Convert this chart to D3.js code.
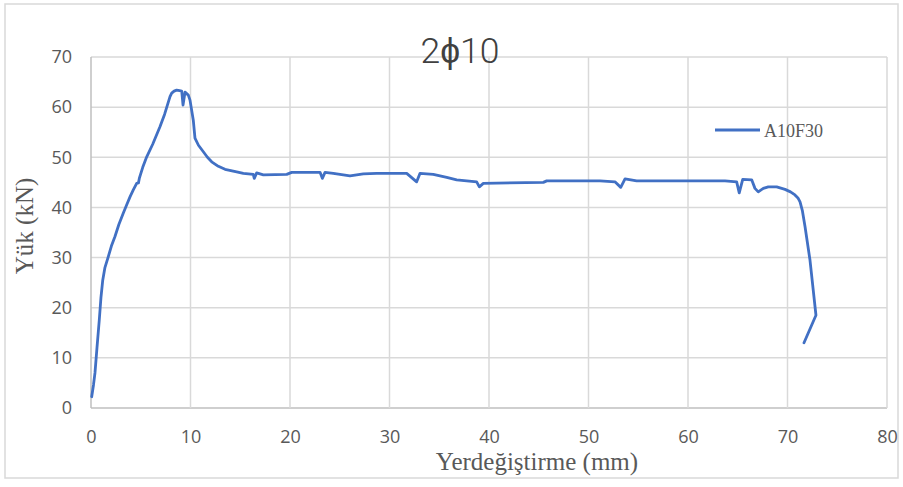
<!DOCTYPE html>
<html>
<head>
<meta charset="utf-8">
<script src="https://cdn.jsdelivr.net/npm/d3@7"></script>
<style>
html,body{margin:0;padding:0;background:#fff;}
svg{display:block;}
</style>
</head>
<body>
<svg id="chart" width="903" height="487"></svg>
<script>
// ---- data ----
const title = "2\u03D510";
const seriesName = "A10F30";
const xLabel = "Yerdeğiştirme (mm)";
const yLabel = "Yük (kN)";
const xTicks = [0, 10, 20, 30, 40, 50, 60, 70, 80];
const yTicks = [0, 10, 20, 30, 40, 50, 60, 70];
const displacement = [
  0.07, 0.25, 0.40, 0.60, 0.83, 1.00, 1.18, 1.40, 1.74, 2.05, 2.41, 2.80, 3.25, 3.60, 3.92, 4.25, 4.59, 4.77, 4.87, 5.20, 5.60,
  6.20, 6.93, 7.40, 7.94, 8.11, 8.35, 8.61, 8.90, 9.12, 9.25, 9.45, 9.78, 9.95,
  10.28, 10.45, 10.80, 11.29, 11.70, 12.13, 12.80, 13.47, 14.64, 15.31, 16.31, 16.41, 16.65, 17.32, 19.67, 20.17, 23.02, 23.25, 23.52,
  24.35, 26.03, 27.37, 28.71, 31.73, 32.73, 33.07, 34.40, 35.75, 36.75, 38.76, 39.03, 39.43, 45.46, 45.80, 51.16, 52.66,
  53.24, 53.67, 54.84, 56.01, 63.72, 64.89, 65.15, 65.50, 66.40, 66.73, 67.06, 67.57, 68.07, 68.91, 69.75, 70.30, 70.75, 71.05, 71.26,
  71.50, 71.76, 72.26, 72.86, 71.66
];
const load = [
  2.25, 4.6, 7.0, 12.0, 17.5, 22.0, 25.5, 28.0, 30.2, 32.3, 34.2, 36.6, 38.9, 40.6, 42.1, 43.5, 44.8, 44.9, 45.9, 48.0, 50.1,
  52.6, 56.1, 58.6, 62.1, 62.8, 63.2, 63.4, 63.3, 63.2, 60.4, 63.0, 62.4, 61.4,
  57.4, 53.8, 52.4, 51.1, 50.0, 49.1, 48.2, 47.6, 47.1, 46.8, 46.6, 45.8, 46.9, 46.5, 46.6, 47.0, 47.0, 45.8, 47.0,
  46.8, 46.3, 46.7, 46.8, 46.8, 45.1, 46.8, 46.6, 46.0, 45.5, 45.1, 44.1, 44.8, 45.0, 45.3, 45.3, 45.1,
  44.0, 45.7, 45.3, 45.3, 45.3, 45.1, 42.9, 45.6, 45.5, 43.8, 43.1, 43.8, 44.1, 44.1, 43.6, 43.1, 42.5, 41.9, 41.1,
  39.3, 36.2, 29.5, 18.5, 13.0
];

// ---- drawing ----
const svg = d3.select("#chart");
const W = 903, H = 487;
const plot = {left: 91, right: 887, top: 57, bottom: 408};
const grid = "#d9d9d9";
const txt = "#595959";
const lineColor = "#4170c4";

svg.append("rect").attr("x", 0).attr("y", 0).attr("width", W).attr("height", H).attr("fill", "#fff");
svg.append("rect").attr("x", 5).attr("y", 4).attr("width", 893).attr("height", 474)
  .attr("fill", "#fff").attr("stroke", "#d9d9d9").attr("stroke-width", 1.5);

const x = d3.scaleLinear().domain([0, 80]).range([plot.left, plot.right]);
const y = d3.scaleLinear().domain([0, 70]).range([plot.bottom, plot.top]);

// gridlines
svg.append("g").selectAll("line").data(yTicks).join("line")
  .attr("x1", plot.left).attr("x2", plot.right)
  .attr("y1", d => y(d)).attr("y2", d => y(d))
  .attr("stroke", d => d === 0 ? "#bfbfbf" : grid).attr("stroke-width", 1.5);
svg.append("g").selectAll("line").data(xTicks).join("line")
  .attr("y1", plot.top).attr("y2", plot.bottom)
  .attr("x1", d => x(d)).attr("x2", d => x(d))
  .attr("stroke", d => d === 0 ? "#bfbfbf" : grid).attr("stroke-width", 1.5);

// axes via d3 axis generators (labels only)
const yAxis = d3.axisLeft(y).tickValues(yTicks).tickSize(0).tickPadding(19).tickFormat(d3.format("d"));
const gy = svg.append("g").attr("transform", `translate(${plot.left},0)`).call(yAxis);
gy.select(".domain").remove();
gy.selectAll("text").attr("fill", txt).attr("font-family", "'Open Sans', sans-serif").attr("font-size", 18);

const xAxis = d3.axisBottom(x).tickValues(xTicks).tickSize(0).tickPadding(22).tickFormat(d3.format("d"));
const gx = svg.append("g").attr("transform", `translate(0,${plot.bottom})`).call(xAxis);
gx.select(".domain").remove();
gx.selectAll("text").attr("fill", txt).attr("font-family", "'Open Sans', sans-serif").attr("font-size", 18);

// series
const pts = displacement.map((d, i) => [d, load[i]]);
const line = d3.line().x(d => x(d[0])).y(d => y(d[1]));
svg.append("path").datum(pts).attr("d", line)
  .attr("fill", "none").attr("stroke", lineColor).attr("stroke-width", 2.8)
  .attr("stroke-linejoin", "round").attr("stroke-linecap", "round");

// title
svg.append("text").attr("x", 460).attr("y", 63).attr("text-anchor", "middle")
  .attr("font-family", "Roboto, sans-serif").attr("font-weight", 300).attr("font-size", 35)
  .attr("fill", "#404040").attr("textLength", 79).attr("lengthAdjust", "spacingAndGlyphs")
  .text(title);

// axis titles
svg.append("text").attr("x", 537).attr("y", 470).attr("text-anchor", "middle")
  .attr("font-family", "'Liberation Serif', 'Times New Roman', serif").attr("font-size", 25)
  .attr("fill", txt).text(xLabel);
svg.append("text").attr("transform", "translate(33,226) rotate(-90)").attr("text-anchor", "middle")
  .attr("font-family", "'Liberation Serif', 'Times New Roman', serif").attr("font-size", 25)
  .attr("fill", txt).text(yLabel);

// legend
const lg = svg.append("g");
lg.append("line").attr("x1", 715).attr("x2", 760).attr("y1", 130).attr("y2", 130)
  .attr("stroke", lineColor).attr("stroke-width", 2.8);
lg.append("text").attr("x", 764).attr("y", 137)
  .attr("font-family", "'Liberation Serif', 'Times New Roman', serif").attr("font-size", 18)
  .attr("fill", txt).text(seriesName);
</script>
</body>
</html>
